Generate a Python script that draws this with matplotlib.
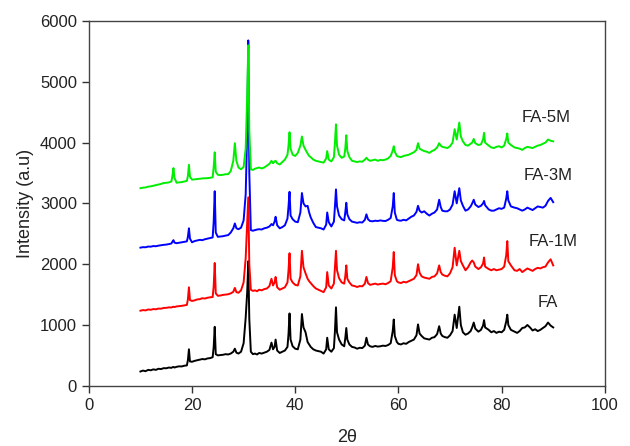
import matplotlib
matplotlib.use("Agg")
import matplotlib.pyplot as plt

# 2theta grid (degrees), shared by all four patterns
two_theta = [
    10.0, 10.5, 11.0, 11.5, 12.0, 12.5, 13.0, 13.5, 14.0, 14.5,
    15.0, 15.5, 16.0, 16.2, 16.4, 16.6, 17.0, 17.5, 18.0, 18.5,
    19.0, 19.2, 19.4, 19.6, 20.0, 20.5, 21.0, 21.5, 22.0, 22.5,
    23.0, 23.5, 24.0, 24.2, 24.4, 24.6, 25.0, 25.5, 26.0, 26.5,
    27.0, 27.5, 28.0, 28.3, 28.6, 29.0, 29.5, 30.0, 30.4, 30.7,
    30.9, 31.1, 31.4, 31.8, 32.2, 32.6, 33.0, 33.5, 34.0, 34.5,
    35.0, 35.4, 35.7, 36.0, 36.2, 36.5, 37.0, 37.5, 38.0, 38.5,
    38.7, 38.9, 39.1, 39.5, 40.0, 40.5, 41.0, 41.3, 41.6, 42.0,
    42.4, 42.7, 43.0, 43.5, 44.0, 44.5, 45.0, 45.5, 46.0, 46.2,
    46.5, 47.0, 47.5, 47.7, 47.9, 48.1, 48.5, 49.0, 49.5, 49.7,
    49.9, 50.1, 50.5, 51.0, 51.5, 52.0, 52.5, 53.0, 53.5, 53.8,
    54.1, 54.5, 55.0, 55.5, 56.0, 56.5, 57.0, 57.5, 58.0, 58.5,
    58.9, 59.1, 59.3, 59.7, 60.0, 60.5, 61.0, 61.5, 62.0, 62.5,
    63.0, 63.5, 63.8, 64.1, 64.5, 65.0, 65.5, 66.0, 66.5, 67.0,
    67.5, 67.9, 68.2, 68.5, 69.0, 69.5, 70.0, 70.5, 70.9, 71.3,
    71.8, 72.1, 72.5, 73.0, 73.5, 74.0, 74.3, 74.6, 74.9, 75.5,
    76.0, 76.4, 76.6, 76.8, 77.5, 78.0, 78.5, 79.0, 79.5, 80.0,
    80.5, 80.9, 81.1, 81.3, 81.8, 82.5, 83.0, 83.5, 84.0, 84.5,
    85.0, 85.5, 86.0, 86.5, 87.0, 87.5, 88.0, 88.5, 89.0, 89.5,
    90.0,
]

fa = [
    235, 250, 240, 262, 255, 270, 262, 280, 275, 290,
    288, 300, 295, 305, 310, 300, 312, 320, 318, 330,
    335, 420, 600, 400, 395, 410, 420, 430, 440, 435,
    450, 455, 470, 640, 970, 520, 500, 505, 510, 520,
    515, 530, 560, 610, 545, 530, 560, 700, 1120, 1550,
    2050, 1100, 560, 520, 530, 515, 540, 530, 545, 560,
    590, 710, 600, 640, 760, 580, 540, 560, 580, 640,
    850, 1190, 760, 650, 610, 600, 760, 1180, 960, 880,
    720, 680, 640, 600, 580, 570, 560, 530, 600, 790,
    600, 560, 620, 900, 1290, 880, 760, 680, 650, 780,
    950, 760, 680, 640, 630, 610, 625, 620, 660, 790,
    680, 650, 640, 655, 645, 650, 660, 655, 670, 700,
    900, 1090, 820, 720, 690, 680, 700, 690, 720, 740,
    760, 830, 1010, 860, 820, 780, 770, 760, 790, 800,
    850, 980, 860, 820, 800, 790, 830, 900, 1170, 950,
    1300, 1000, 880, 840, 860, 900, 960, 1040, 940, 890,
    920, 990, 1080, 960, 920, 880, 900, 870, 890, 880,
    920, 1060, 1170, 1000, 920, 890, 870, 900, 950, 960,
    1000, 960, 910, 930, 900, 920, 950, 980, 1040, 990,
    960,
]

fa_1m = [
    1235, 1245, 1240, 1255, 1250, 1262, 1258, 1270, 1268, 1280,
    1282, 1290, 1288, 1295, 1300, 1295, 1305, 1310, 1315, 1322,
    1330, 1420, 1620, 1410, 1395, 1405, 1420, 1425, 1440, 1435,
    1448, 1455, 1460, 1640, 2020, 1520, 1480, 1485, 1495, 1500,
    1505, 1520, 1545, 1610, 1540, 1530, 1570, 1700, 2100, 2700,
    3100, 2000, 1580, 1560, 1570, 1555, 1580, 1570, 1590, 1600,
    1640, 1760, 1650, 1700, 1790, 1620, 1580, 1600, 1620, 1700,
    1900, 2180, 1760, 1700, 1660, 1650, 1800, 2220, 1950, 1850,
    1760, 1720, 1690, 1640, 1600, 1580, 1560, 1540, 1620, 1870,
    1650, 1600, 1680, 1950, 2220, 1900, 1770, 1700, 1680, 1800,
    1980, 1760, 1700, 1650, 1640, 1625, 1640, 1635, 1680, 1790,
    1690, 1660, 1670, 1680, 1665, 1675, 1680, 1670, 1690, 1720,
    1950, 2200, 1820, 1720, 1700, 1690, 1710, 1700, 1720, 1740,
    1760, 1820, 2000, 1860, 1800, 1780, 1770, 1760, 1790, 1800,
    1850, 1980, 1870, 1830, 1810, 1800, 1850, 1950, 2270, 1980,
    2220, 2050, 1980, 1900, 1950, 2030, 2060, 2030, 1960, 1920,
    1950, 2010, 2110, 1960, 1920, 1900, 1920, 1900, 1910, 1920,
    1960, 2150, 2380, 2050, 1980, 1900, 1890, 1920, 1870, 1900,
    1930, 1910, 1890, 1920, 1940, 1930, 1950, 1960, 2030, 2080,
    1980,
]

fa_3m = [
    2272, 2280, 2278, 2290, 2288, 2298, 2295, 2305, 2312, 2318,
    2322, 2330, 2340, 2370, 2395, 2355, 2345, 2352, 2360, 2368,
    2375, 2450, 2590, 2420, 2360, 2380, 2390, 2400, 2395, 2410,
    2420, 2430, 2440, 2700, 3200, 2520, 2450, 2455, 2460, 2470,
    2478, 2520, 2590, 2670, 2590, 2575, 2600, 2720, 3150, 4200,
    5680, 3500, 2560, 2550, 2560, 2570, 2575, 2570, 2590, 2600,
    2620, 2660, 2640, 2700, 2780, 2640, 2590, 2610, 2640, 2750,
    2950, 3190, 2800, 2740, 2700, 2690, 2850, 3170, 3000, 2950,
    2960, 2850, 2770, 2680, 2610, 2600, 2590, 2570, 2650, 2850,
    2690, 2620, 2700, 2950, 3230, 2950, 2800, 2740, 2720, 2850,
    3010, 2820, 2740, 2700, 2690, 2680, 2690, 2685, 2730, 2820,
    2740, 2710, 2705, 2715, 2710, 2720, 2712, 2710, 2730, 2760,
    2950, 3170, 2850, 2730, 2720, 2715, 2730, 2720, 2750, 2780,
    2800, 2860, 2960, 2880, 2850, 2870, 2830, 2800, 2830, 2850,
    2900, 3060, 2940, 2880, 2870, 2870, 2900, 2980, 3200, 3000,
    3250, 3050, 2960, 2880, 2900, 2950, 3000, 3060, 2980, 2940,
    2960, 3000, 3040, 2970, 2900, 2880, 2880, 2900, 2920, 2910,
    2930, 3080, 3200, 3050, 2950, 2930, 2920, 2900, 2880, 2900,
    2930, 2910, 2890, 2920, 2950, 2940, 2930, 2960, 3040, 3090,
    3020,
]

fa_5m = [
    3250, 3258, 3262, 3275, 3280, 3290, 3300, 3310, 3320, 3335,
    3338, 3345, 3360, 3450, 3580, 3420, 3340, 3345, 3350, 3360,
    3370, 3450, 3635, 3440, 3390, 3395, 3400, 3405, 3410, 3412,
    3415, 3420, 3430, 3600, 3840, 3520, 3470, 3465, 3470, 3480,
    3480, 3530, 3700, 3990, 3700, 3590, 3560, 3600, 3900, 4800,
    5600, 4200, 3560, 3550, 3570, 3580, 3590, 3575, 3590, 3620,
    3650, 3700, 3660, 3690, 3700, 3660, 3640, 3680, 3720, 3800,
    3950, 4170, 3900, 3800, 3780, 3830, 3950, 4100, 3950, 3880,
    3820, 3780, 3760, 3720, 3700, 3690, 3680, 3670, 3740, 3860,
    3720, 3690, 3760, 4000, 4300, 3950, 3800, 3750, 3770, 3900,
    4120, 3860, 3760, 3700, 3690, 3680, 3690, 3685, 3720, 3750,
    3720, 3700, 3710, 3720, 3700, 3715, 3710, 3720, 3740, 3780,
    3870, 3940, 3850, 3780, 3770, 3760, 3780, 3790, 3800, 3820,
    3840, 3880, 3990, 3900, 3880, 3860, 3850, 3830, 3860, 3880,
    3920, 3990, 3950, 3930, 3920, 3910, 3940, 4000, 4220, 4050,
    4330, 4100, 4020, 3960, 3950, 3980, 4000, 4060, 3990, 3960,
    3970, 4050, 4160, 4000, 3950, 3920, 3910, 3930, 3940, 3920,
    3950, 4060, 4150, 4000, 3960, 3920, 3910, 3900, 3880, 3910,
    3930, 3920, 3910, 3930, 3950, 3960, 3980, 4000, 4050, 4030,
    4020,
]

names = ["FA", "FA-1M", "FA-3M", "FA-5M"]
colors = ["black", "red", "blue", "#00ee00"]
label_x = [89.0, 89.9, 89.1, 88.6]
label_y = [1375, 2365, 3460, 4410]

plt.rcParams["font.family"] = ["Liberation Sans", "DejaVu Sans"]

fig = plt.figure(figsize=(6.3, 4.46), dpi=100)
ax = fig.add_axes([0.141, 0.135, 0.819, 0.818])

for ys, c in zip([fa, fa_1m, fa_3m, fa_5m], colors):
    ax.plot(two_theta, ys, color=c, lw=1.4)

for n, lx, ly in zip(names, label_x, label_y):
    ax.text(lx, ly, n, fontsize=12, ha="center", va="center", color="#222222")

ax.set_xlim(0, 100)
ax.set_ylim(0, 6000)
ax.set_xticks([0, 20, 40, 60, 80, 100])
ax.set_yticks([0, 1000, 2000, 3000, 4000, 5000, 6000])
ax.tick_params(direction="out", length=5, width=1, labelsize=12,
               colors="#333333", labelcolor="#222222")
for s in ax.spines.values():
    s.set_color("#444444")
    s.set_linewidth(1.0)

ax.set_xlabel("2θ", fontsize=13, color="#222222", labelpad=12)
ax.set_ylabel("Intensity (a.u)", fontsize=13, color="#222222", labelpad=4)

fig.savefig("out.png", dpi=100)
